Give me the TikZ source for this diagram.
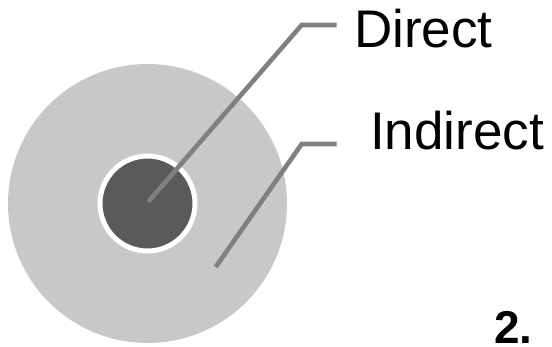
\documentclass[tikz,border=0pt]{standalone}
\usepackage{fontspec}
\setmainfont{Liberation Sans}
\usepackage{xcolor}
\usepackage{tikz}
\usetikzlibrary{positioning, calc}
\definecolor{myouter}{RGB}{200,200,200}
\definecolor{myinner}{RGB}{90,90,90}
\definecolor{myline}{RGB}{128,128,128}
\tikzset{
  outerdisc/.style={circle, fill=myouter, minimum size=279pt,
    inner sep=0pt, outer sep=0pt},
  innerdisc/.style={circle, fill=myinner, draw=white, line width=5pt,
    minimum size=95pt, inner sep=0pt, outer sep=0pt},
  lbl/.style={anchor=base west, inner sep=0pt, font=\fontsize{53}{60}\selectfont},
  numlbl/.style={anchor=base west, inner sep=0pt, font=\fontsize{46}{52}\selectfont\bfseries},
  leader/.style={color=myline, line width=4.6pt}
}
\begin{document}
\begin{tikzpicture}[x=1pt, y=1pt]
  \useasboundingbox (0,0) rectangle (552,346);
  \node[outerdisc] (indirect) at (147.5,142.5) {};
  \node[innerdisc] (direct) at (147.5,142.5) {};
  \node[lbl] (dlbl) at (354,298) {Direct};
  \node[lbl] (ilbl) at (370,196) {Indirect};
  \node[numlbl] (num) at (494,3) {2.};
  \coordinate (dtip) at (148.3,144.3);
  \coordinate (delbow) at (301.7,321);
  \coordinate (dend) at (336.7,321);
  \coordinate (itip) at (215.7,79);
  \coordinate (ielbow) at (301.7,202);
  \coordinate (iend) at (336.7,202);
  \draw[leader] (dtip) -- (delbow) -- (dend);
  \draw[leader] (itip) -- (ielbow) -- (iend);
\end{tikzpicture}
\end{document}
